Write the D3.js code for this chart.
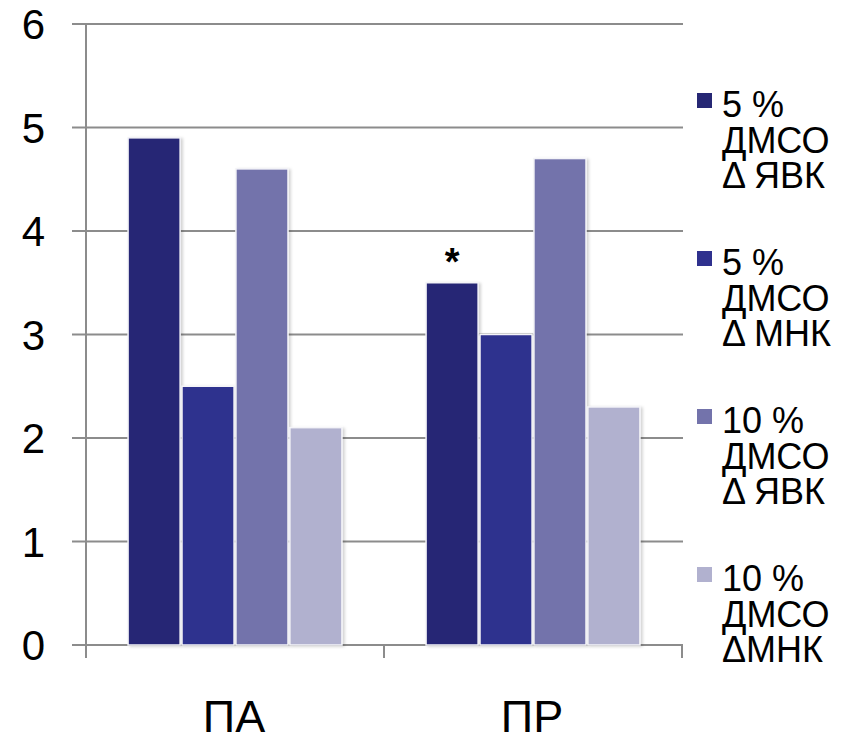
<!DOCTYPE html>
<html><head><meta charset="utf-8">
<script src="https://cdn.jsdelivr.net/npm/d3@7"></script>
<style>body{margin:0;background:#fff}svg{display:block}</style>
</head><body>
<script>
const categories = ["ПА", "ПР"];
const seriesNames = [
  ["5 %", "ДМСО", "Δ ЯВК"],
  ["5 %", "ДМСО", "Δ МНК"],
  ["10 %", "ДМСО", "Δ ЯВК"],
  ["10 %", "ДМСО", "ΔМНК"]
];
const seriesKeys = ["s1", "s2", "s3", "s4"];
const values = {
  s1: [4.9, 3.5],
  s2: [2.5, 3.0],
  s3: [4.6, 4.7],
  s4: [2.1, 2.3]
};
const colors = ["#262774", "#2f318e", "#7373ab", "#b1b1cf"];
const yTicks = [0, 1, 2, 3, 4, 5, 6];
const annotations = [{cat: "ПР", key: "s1", text: "*"}];

const W = 848, H = 734;
const svg = d3.select("body").append("svg").attr("width", W).attr("height", H);
const defs = svg.append("defs");
const f = defs.append("filter").attr("id", "sh").attr("x", "-20%").attr("y", "-20%").attr("width", "150%").attr("height", "150%");
f.append("feDropShadow").attr("dx", 2).attr("dy", 1).attr("stdDeviation", 1.5).attr("flood-color", "#000").attr("flood-opacity", 0.18);

const x0 = 86, x1 = 682, y0 = 645, y1 = 24;
const x = d3.scaleBand().domain(categories).range([x0, x1]).paddingInner(0).paddingOuter(0);
const xi = d3.scaleBand().domain(seriesKeys).range([0, x.bandwidth()]).paddingOuter(0.78).paddingInner(0.035);
const y = d3.scaleLinear().domain([0, 6]).range([y0, y1]);

// gridlines
const g = svg.append("g");
g.selectAll("line.grid").data(yTicks).join("line")
  .attr("x1", x0 - 14).attr("x2", x1 + 1)
  .attr("y1", d => y(d)).attr("y2", d => y(d))
  .attr("stroke", "#8c8c8c").attr("stroke-width", 2);

// y axis line
g.append("line").attr("x1", x0).attr("x2", x0).attr("y1", y1).attr("y2", y0 + 13)
  .attr("stroke", "#8c8c8c").attr("stroke-width", 2);
// x category ticks
g.selectAll("line.xt").data([x0, x0 + x.bandwidth(), x1]).join("line")
  .attr("x1", d => d).attr("x2", d => d).attr("y1", y0).attr("y2", y0 + 13)
  .attr("stroke", "#8c8c8c").attr("stroke-width", 2);

// bars
const bars = svg.append("g");
categories.forEach((c, ci) => {
  seriesKeys.forEach((k, ki) => {
    const v = values[k][ci];
    bars.append("rect")
      .attr("x", x(c) + xi(k)).attr("y", y(v))
      .attr("width", xi.bandwidth()).attr("height", y0 - y(v))
      .attr("fill", colors[ki]).attr("stroke", "#f4f4f8").attr("stroke-width", 1.5)
      .attr("filter", "url(#sh)");
  });
});

// annotations
annotations.forEach(a => {
  const ci = categories.indexOf(a.cat);
  svg.append("text")
    .attr("x", x(a.cat) + xi(a.key) + xi.bandwidth() / 2)
    .attr("y", y(values[a.key][ci]) - 8)
    .attr("text-anchor", "middle").attr("font-family", "Liberation Sans, Arial, sans-serif")
    .attr("font-size", 38).attr("font-weight", "bold").attr("fill", "#000").text(a.text);
});

// y tick labels
svg.selectAll("text.yl").data(yTicks).join("text")
  .attr("x", 45).attr("y", d => y(d) + 15)
  .attr("text-anchor", "end").attr("font-family", "Liberation Sans, Arial, sans-serif")
  .attr("font-size", 42).attr("fill", "#000").text(d => d);

// x labels
svg.selectAll("text.xl").data(categories).join("text")
  .attr("x", d => x(d) + x.bandwidth() / 2 - 1).attr("y", 732)
  .attr("text-anchor", "middle").attr("font-family", "Liberation Sans, Arial, sans-serif")
  .attr("font-size", 45).attr("fill", "#000").text(d => d);

// legend
const leg = svg.append("g");
seriesKeys.forEach((k, i) => {
  const top = 117 + i * 158;
  leg.append("rect").attr("x", 697).attr("y", top - 24).attr("width", 15).attr("height", 15).attr("fill", colors[i]);
  seriesNames[i].forEach((line, li) => {
    leg.append("text").attr("x", 722).attr("y", top + li * 35.5)
      .attr("font-family", "Liberation Sans, Arial, sans-serif").attr("font-size", 36)
      .attr("fill", "#000").text(line);
  });
});
</script>
</body></html>
